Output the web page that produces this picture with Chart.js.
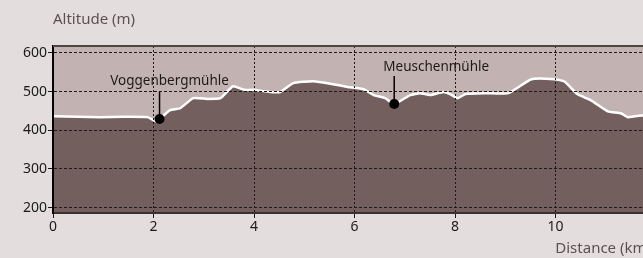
<!DOCTYPE html>
<html>
<head>
<meta charset="utf-8">
<script src="https://cdn.jsdelivr.net/npm/chart.js"></script>
<style>
  html, body { margin: 0; padding: 0; background: #e3dedd; overflow: hidden; width: 643px; height: 258px; }
  #wrap { position: absolute; left: 0; top: 0; }
</style>
</head>
<body>
<div id="wrap"><canvas id="hoehenprofil" width="665" height="258"></canvas></div>
<script>
// elevation profile data
const distKm = [0, 0.5, 0.94, 1.4, 1.88, 2.05, 2.12, 2.33, 2.53, 2.79, 3.07, 3.33, 3.58, 3.82, 3.98,
  4.32, 4.52, 4.78, 5.18, 5.58, 5.86, 6.18, 6.38, 6.61, 6.79, 7.11, 7.31, 7.51, 7.77, 7.91,
  8.05, 8.21, 8.6, 9.06, 9.52, 9.98, 10.18, 10.44, 10.7, 11.04, 11.3, 11.44, 11.75, 11.9];
const altM = [436, 435, 434, 435, 434, 423, 429, 452, 457, 483, 481, 483, 514, 504, 505,
  499, 499, 522, 527, 519, 512, 506, 491, 483, 468, 491, 496, 491, 499, 493,
  483, 494, 496, 496, 532, 532, 526, 493, 478, 449, 444, 434, 439, 440];

const markerNames = ["Voggenbergmühle", "Meuschenmühle"];
const markerKm = [2.12, 6.79];
const markerAlt = [429, 468];

const xTicks = [0, 2, 4, 6, 8, 10];
const yTicks = [200, 300, 400, 500, 600];

// label placement relative to the dot (px)
const labelOffsets = [{dx: 10, dy: -38, stem: 27}, {dx: 42, dy: -37, stem: 28}];

const FONT = "'Noto Sans', sans-serif";

const decor = {
  id: "decor",
  beforeDraw(chart) {
    const {ctx, chartArea: a} = chart;
    ctx.save();
    ctx.fillStyle = "#c2b3b2";
    ctx.fillRect(a.left, a.top, a.right - a.left, a.bottom - a.top);
    ctx.restore();
  },
  afterDraw(chart) {
    const {ctx, chartArea: a, scales} = chart;
    ctx.save();
    // top border
    ctx.strokeStyle = "#4d4444";
    ctx.lineWidth = 2;
    ctx.beginPath();
    ctx.moveTo(a.left, a.top);
    ctx.lineTo(a.right, a.top);
    ctx.stroke();

    // axis titles
    ctx.fillStyle = "#5a5252";
    ctx.font = "15px " + FONT;
    ctx.textBaseline = "middle";
    ctx.textAlign = "left";
    ctx.fillText("Altitude (m)", a.left, 20);
    ctx.textAlign = "right";
    ctx.fillText("Distance (km)", a.right, 249);

    // place labels
    ctx.font = "13.5px " + FONT;
    ctx.textAlign = "center";
    ctx.fillStyle = "#1e1a1a";
    ctx.strokeStyle = "#000";
    ctx.lineWidth = 1.5;
    markerNames.forEach((name, i) => {
      const px = scales.x.getPixelForValue(markerKm[i]);
      const py = scales.y.getPixelForValue(markerAlt[i]);
      const o = labelOffsets[i];
      ctx.beginPath();
      ctx.moveTo(px, py);
      ctx.lineTo(px, py - o.stem);
      ctx.stroke();
      ctx.fillText(name, px + o.dx, py + o.dy);
    });
    ctx.restore();
  }
};

new Chart("hoehenprofil", {
  type: "line",
  data: {
    datasets: [
      {
        data: distKm.map((d, i) => ({x: d, y: altM[i]})),
        borderColor: "#ffffff",
        borderWidth: 2.5,
        backgroundColor: "#735f5e",
        fill: "start",
        pointRadius: 0,
        tension: 0.15,
        order: 2
      },
      {
        data: markerKm.map((d, i) => ({x: d, y: markerAlt[i]})),
        showLine: false,
        pointRadius: 5,
        pointBackgroundColor: "#000",
        pointBorderWidth: 0,
        order: 1
      }
    ]
  },
  options: {
    responsive: false,
    animation: false,
    layout: {padding: {top: 46, right: 14, left: 0, bottom: 0}},
    plugins: {legend: {display: false}, tooltip: {enabled: false}},
    scales: {
      x: {
        type: "linear",
        min: 0,
        max: 11.9,
        afterBuildTicks: s => { s.ticks = xTicks.map(v => ({value: v})); },
        afterFit: s => { s.height = 45; },
        grid: {z: 1, color: "#1e1818", lineWidth: 1, tickLength: 5, tickColor: "#1e1818"},
        border: {z: 1, color: "#3b3131", width: 2, dash: [2, 2]},
        ticks: {z: 1, color: "#1a1a1a", font: {family: FONT, size: 14}, padding: 1, maxRotation: 0}
      },
      y: {
        min: 186,
        max: 618,
        afterBuildTicks: s => { s.ticks = yTicks.map(v => ({value: v})); },
        afterFit: s => { s.width = 53; },
        grid: {z: 1, color: "#1e1818", lineWidth: 1, tickLength: 5, tickColor: "#1e1818"},
        border: {z: 1, color: "#000", width: 2, dash: [3, 2]},
        ticks: {z: 1, color: "#1a1a1a", font: {family: FONT, size: 14}, padding: 1}
      }
    }
  },
  plugins: [decor]
});
</script>
</body>
</html>
